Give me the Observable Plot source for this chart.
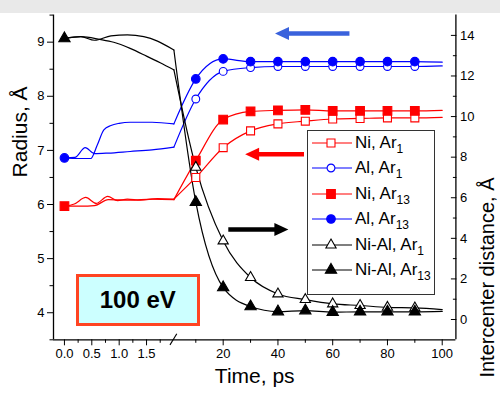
<!DOCTYPE html>
<html>
<head>
<meta charset="utf-8">
<script src="https://cdn.jsdelivr.net/npm/d3@7"></script>
<script src="https://cdn.jsdelivr.net/npm/@observablehq/plot@0.6"></script>
<style>
  body { margin: 0; background: #fff; font-family: "Liberation Sans", Arial, sans-serif; }
  #wrap { position: relative; width: 500px; height: 395px; overflow: hidden; }
  #band { position: absolute; left: 0; top: 0; width: 500px; height: 13px; background: #e9e9e9; }
  #legend { position: absolute; left: 307px; top: 130px; width: 128px; height: 165px; box-sizing: border-box;
            border: 1px solid #333; background: #fff; }
  .row { position: absolute; left: 0; height: 20px; display: flex; align-items: center; white-space: nowrap; }
  .row svg { display: block; margin-left: 2px; }
  .row span.t { font-size: 17px; margin-left: 3px; color: #000; }
  .row span.s { font-size: 12px; position: relative; top: 5px; }
  #ev { position: absolute; left: 76px; top: 273.5px; width: 123.5px; height: 52px; box-sizing: border-box;
        border: 3.5px solid #ff4422; background: #ccffff; display: flex; align-items: center; justify-content: center;
        font-weight: bold; font-size: 24px; color: #000; }
</style>
</head>
<body>
<div id="wrap"></div>
<script>
// ---------------- data ----------------
const markerTimes = [10, 20, 30, 40, 50, 60, 70, 80, 90];
const endTime = 100;

// Radius, Å (left axis)
const niAr1  = [6.50, 7.05, 7.36, 7.49, 7.54, 7.58, 7.59, 7.60, 7.60];
const alAr1  = [7.95, 8.46, 8.53, 8.55, 8.55, 8.55, 8.55, 8.55, 8.55];
const niAr13 = [6.81, 7.57, 7.72, 7.74, 7.75, 7.73, 7.73, 7.73, 7.73];
const alAr13 = [8.32, 8.69, 8.64, 8.64, 8.64, 8.64, 8.64, 8.64, 8.64];
// Intercenter distance, Å (right axis)
const niAlAr1  = [7.50, 3.87, 2.07, 1.26, 0.98, 0.77, 0.69, 0.60, 0.57];
const niAlAr13 = [5.78, 1.58, 0.64, 0.39, 0.44, 0.36, 0.38, 0.38, 0.38];

// values at t = 100 ps (end of lines)
const niAr1End = 7.61, alAr1End = 8.56, niAr13End = 7.74, alAr13End = 8.63, niAlAr1End = 0.49, niAlAr13End = 0.40;

// early part 0–2 ps (lines only)
const niAr1EarlyT  = [0, 0.18, 0.39, 0.58, 0.79, 0.97, 1.15, 1.39, 1.7, 2.0];
const niAr1EarlyV  = [5.97, 6.01, 6.13, 6.02, 6.15, 6.07, 6.10, 6.08, 6.11, 6.10];
const niAr13EarlyT = [0, 0.3, 0.55, 0.8, 1.2, 1.6, 2.0];
const niAr13EarlyV = [5.97, 5.97, 5.98, 6.09, 6.08, 6.10, 6.09];
const alAr1EarlyT  = [0, 0.19, 0.38, 0.55, 0.8, 1.2, 1.6, 2.0];
const alAr1EarlyV  = [6.86, 6.87, 7.05, 6.94, 6.95, 6.98, 7.01, 7.06];
const alAr13EarlyT = [0, 0.25, 0.48, 0.6, 0.72, 0.85, 1.0, 1.2, 1.6, 2.0];
const alAr13EarlyV = [6.86, 6.85, 6.85, 7.10, 7.38, 7.46, 7.50, 7.52, 7.52, 7.49];
const niAlAr1EarlyT  = [0, 0.3, 0.65, 0.9, 1.2, 1.5, 1.75, 2.0];
const niAlAr1EarlyD  = [13.85, 13.94, 13.80, 13.66, 13.36, 12.98, 12.65, 12.30];
const niAlAr13EarlyT = [0, 0.30, 0.55, 0.85, 1.15, 1.45, 1.7, 2.0];
const niAlAr13EarlyD = [13.85, 13.94, 13.76, 13.98, 14.03, 13.94, 13.72, 13.28];

// legend labels
const legendBase = ["Ni, Ar", "Al, Ar", "Ni, Ar", "Al, Ar", "Ni-Al, Ar", "Ni-Al, Ar"];
const legendSub  = ["1", "1", "13", "13", "1", "13"];

// ticks
const xMajorTicks = [0, 0.5, 1, 1.5, 20, 40, 60, 80, 100];
const xMinorTicks = [0.25, 0.75, 1.25, 1.75, 10, 30, 50, 70, 90];
const yLeftMajor = [4, 5, 6, 7, 8, 9];
const yLeftMinor = [3.5, 4.5, 5.5, 6.5, 7.5, 8.5, 9.5];
const yRightMajor = [0, 2, 4, 6, 8, 10, 12, 14];
const yRightMinor = [1, 3, 5, 7, 9, 11, 13];

// direction arrows (time, radius units)
const arrowY    = [9.153, 6.918, 5.528];
const arrowTip  = [39.1, 28.2, 44.0];
const arrowTail = [66.3, 49.7, 22.05];

// ---------------- helpers ----------------
const yDomain = [3.5, 9.5];
const dDomain = [-1, 15];
const toV = d => yDomain[0] + (d - dDomain[0]) * (yDomain[1] - yDomain[0]) / (dDomain[1] - dDomain[0]);
const toD = v => dDomain[0] + (v - yDomain[0]) * (dDomain[1] - dDomain[0]) / (yDomain[1] - yDomain[0]);

const RED = "#ff0000", BLUE = "#0000ff", BLACK = "#000000";
const series = [
  {i: 0, color: RED,   symbol: "square",   filled: false, right: false, et: niAr1EarlyT,    ev: niAr1EarlyV,    m: niAr1,    end: niAr1End},
  {i: 1, color: BLUE,  symbol: "circle",   filled: false, right: false, et: alAr1EarlyT,    ev: alAr1EarlyV,    m: alAr1,    end: alAr1End},
  {i: 2, color: RED,   symbol: "square",   filled: true,  right: false, et: niAr13EarlyT,   ev: niAr13EarlyV,   m: niAr13,   end: niAr13End},
  {i: 3, color: BLUE,  symbol: "circle",   filled: true,  right: false, et: alAr13EarlyT,   ev: alAr13EarlyV,   m: alAr13,   end: alAr13End},
  {i: 4, color: BLACK, symbol: "triangle", filled: false, right: true,  et: niAlAr1EarlyT,  ev: niAlAr1EarlyD,  m: niAlAr1,  end: niAlAr1End},
  {i: 5, color: BLACK, symbol: "triangle", filled: true,  right: true,  et: niAlAr13EarlyT, ev: niAlAr13EarlyD, m: niAlAr13, end: niAlAr13End}
];
const symR = {square: 4.9, circle: 4.3, triangle: 4.2};

const lineMarks = [], dotMarks = [];
for (const s of series) {
  const c = s.right ? toV : (v => v);
  const early = s.et.map((t, k) => ({t, v: c(s.ev[k])}));
  const late = [{t: s.et[s.et.length - 1], v: c(s.ev[s.ev.length - 1])},
                ...markerTimes.map((t, k) => ({t, v: c(s.m[k])})),
                {t: endTime, v: c(s.end)}];
  const pts = markerTimes.map((t, k) => ({t, v: c(s.m[k])}));
  if (s.filled) pts.unshift({t: s.et[0], v: c(s.ev[0])});
  lineMarks.push(Plot.line(early, {x: "t", y: "v", stroke: s.color, strokeWidth: 1.2, curve: "monotone-x"}));
  lineMarks.push(Plot.line(late,  {x: "t", y: "v", stroke: s.color, strokeWidth: 1.2, curve: "monotone-x"}));
  dotMarks.push(Plot.dot(pts, {x: "t", y: "v", symbol: s.symbol, r: s.filled ? symR[s.symbol] : symR[s.symbol] - 0.4,
    fill: s.filled ? s.color : "white", stroke: s.color, strokeWidth: 1.1}));
}

const arrowColors = ["#3a62dc", "#ff0000", "#000000"];
const arrowDir = [-1, -1, 1];
function arrowsMark(index, scales) {
  const {x, y} = scales;
  const g = d3.create("svg:g");
  arrowY.forEach((av, k) => {
    const tip = x(arrowTip[k]), tail = x(arrowTail[k]), py = y(av);
    const dir = arrowDir[k], L = 14, H = 6.5;
    const base = tip - dir * L;
    g.append("line").attr("x1", tail).attr("x2", base + dir * 1).attr("y1", py).attr("y2", py)
      .attr("stroke", arrowColors[k]).attr("stroke-width", 4.5);
    g.append("path").attr("d", `M${tip},${py}L${base},${py - H}L${base},${py + H}Z`).attr("fill", arrowColors[k]);
  });
  // axis break mark
  const bx = x(2), by = y(yDomain[0]);
  g.append("line").attr("x1", bx - 3.4).attr("y1", by + 5.6).attr("x2", bx + 3.4).attr("y2", by - 5.6)
    .attr("stroke", "black").attr("stroke-width", 1.1);
  return g.node();
}

const W = 500, H = 395, mL = 53, mR = 44.6, mT = 14.6, mB = 55.7;
const xDomain = [-0.2, 2, 105];
const xRange = [mL, 173.4, W - mR];

const chart = Plot.plot({
  width: W, height: H,
  marginLeft: mL, marginRight: mR, marginTop: mT, marginBottom: mB,
  style: {fontFamily: "'Liberation Sans', Arial, sans-serif", fontSize: "13px", overflow: "visible", color: "black"},
  x: {type: "linear", domain: xDomain, range: xRange, label: null},
  y: {domain: yDomain, label: null},
  marks: [
    // axes
    Plot.axisX(xMajorTicks, {anchor: "bottom", tickSize: 6, tickPadding: 3, fontSize: 13, label: null,
      tickFormat: d => d < 2 ? d.toFixed(1) : String(d)}),
    Plot.axisX(xMinorTicks, {anchor: "bottom", tickSize: 3.5, label: null, tickFormat: () => ""}),
    Plot.axisY(yLeftMajor, {anchor: "left", tickSize: 6, tickPadding: 3, fontSize: 13, label: null,
      tickFormat: d => String(d)}),
    Plot.axisY(yLeftMinor, {anchor: "left", tickSize: 3.5, label: null, tickFormat: () => ""}),
    Plot.axisY(yRightMajor.map(toV), {anchor: "right", tickSize: 5.5, dx: -5.5, label: null, tickFormat: () => ""}),
    Plot.axisY(yRightMinor.map(toV), {anchor: "right", tickSize: 3.5, dx: -3.5, label: null, tickFormat: () => ""}),
    Plot.axisY(yRightMajor.map(toV), {anchor: "right", tickSize: 0, tickPadding: 4, fontSize: 13, label: null,
      tickFormat: v => String(Math.round(toD(v)))}),
    Plot.ruleX([xDomain[0]], {strokeWidth: 1.3}),
    Plot.ruleX([xDomain[2]], {strokeWidth: 1.3}),
    Plot.ruleY([yDomain[0]], {strokeWidth: 1.3}),
    // axis titles
    Plot.text(["Radius, Å"], {frameAnchor: "left", rotate: -90, dx: -33, fontSize: 21}),
    Plot.text(["Intercenter distance, Å"], {frameAnchor: "right", rotate: -90, dx: 32, fontSize: 20}),
    Plot.text(["Time, ps"], {frameAnchor: "bottom", dy: 43, fontSize: 21}),
    // data
    ...lineMarks,
    ...dotMarks,
    arrowsMark
  ]
});

const wrap = document.getElementById("wrap");
wrap.appendChild(chart);

const band = document.createElement("div");
band.id = "band";
wrap.appendChild(band);

// legend
const legend = document.createElement("div");
legend.id = "legend";
series.forEach((s, k) => {
  const row = document.createElement("div");
  row.className = "row";
  row.style.top = (12.7 + 25.5 * k - 10 - 1) + "px";
  const sv = d3.create("svg").attr("width", 42).attr("height", 20);
  sv.append("line").attr("x1", 2).attr("x2", 42).attr("y1", 10).attr("y2", 10).attr("stroke", s.color).attr("stroke-width", 1.2);
  const r = s.filled ? symR[s.symbol] : symR[s.symbol] - 0.4;
  const typ = s.symbol === "square" ? d3.symbolSquare : s.symbol === "circle" ? d3.symbolCircle : d3.symbolTriangle;
  sv.append("path").attr("d", d3.symbol(typ, Math.PI * r * r)()).attr("transform", "translate(21,10)")
    .attr("fill", s.filled ? s.color : "white").attr("stroke", s.color).attr("stroke-width", 1.1);
  row.appendChild(sv.node());
  const t = document.createElement("span");
  t.className = "t";
  t.innerHTML = legendBase[k] + '<span class="s">' + legendSub[k] + '</span>';
  row.appendChild(t);
  legend.appendChild(row);
});
wrap.appendChild(legend);

const ev = document.createElement("div");
ev.id = "ev";
ev.textContent = "100 eV";
wrap.appendChild(ev);
</script>
</body>
</html>
